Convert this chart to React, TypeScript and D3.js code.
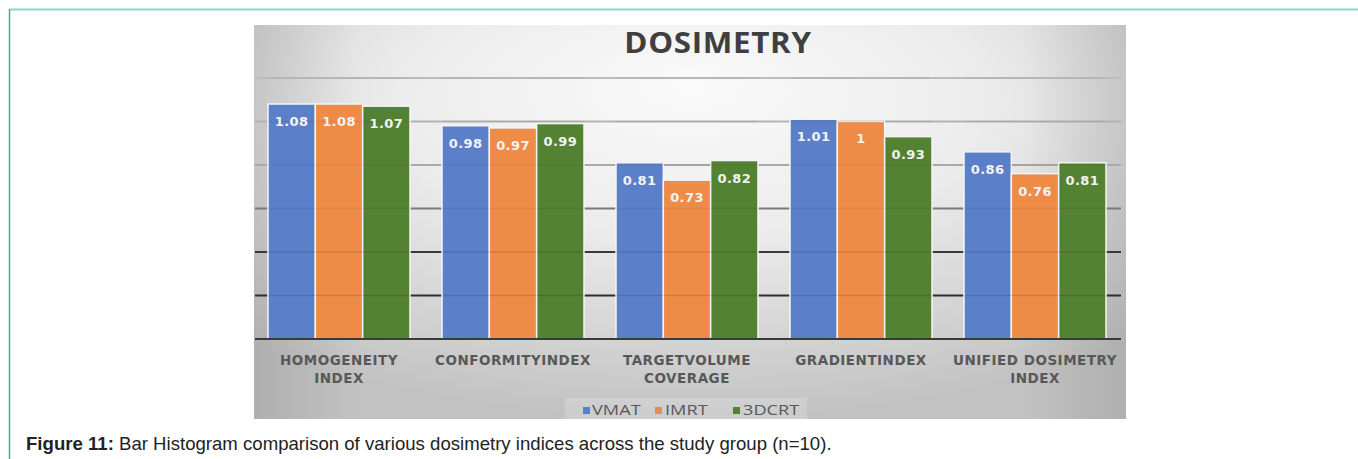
import React from "react";
import * as d3 from "d3";

const categories: string[][] = [
  ["HOMOGENEITY", "INDEX"],
  ["CONFORMITYINDEX"],
  ["TARGETVOLUME", "COVERAGE"],
  ["GRADIENTINDEX"],
  ["UNIFIED DOSIMETRY", "INDEX"],
];
const seriesNames = ["VMAT", "IMRT", "3DCRT"];
const vmat = [1.08, 0.98, 0.81, 1.01, 0.86];
const imrt = [1.08, 0.97, 0.73, 1.0, 0.76];
const dcrt = [1.07, 0.99, 0.82, 0.93, 0.81];
const labelsVmat = ["1.08", "0.98", "0.81", "1.01", "0.86"];
const labelsImrt = ["1.08", "0.97", "0.73", "1", "0.76"];
const labelsDcrt = ["1.07", "0.99", "0.82", "0.93", "0.81"];
const yTicks = [0.2, 0.4, 0.6, 0.8, 1.0, 1.2];

const colors = ["#5b80c9", "#ee8b47", "#538233"];
const gridColors: Record<string, string> = {
  "0.2": "#2e2e2e",
  "0.4": "#3a3a3a",
  "0.6": "#7a7a7a",
  "0.8": "#a9a9a9",
  "1": "#b3b3b3",
  "1.2": "#bdbdbd",
};

export default function App() {
  const W = 1358;
  const H = 459;
  const chartX0 = 254, chartX1 = 1126, chartY0 = 25, chartY1 = 419;
  const plotL = 252, plotR = 1122;
  const yBase = 339;

  const x = d3
    .scaleBand<number>()
    .domain(d3.range(categories.length))
    .range([plotL, plotR])
    .paddingInner(0.184)
    .paddingOuter(0.092);
  const xs = d3.scaleBand<number>().domain([0, 1, 2]).range([0, x.bandwidth()]);
  const y = d3.scaleLinear().domain([0, 1.2]).range([yBase, yBase - 1.2 * 217.6]);

  const series = [vmat, imrt, dcrt];
  const labels = [labelsVmat, labelsImrt, labelsDcrt];

  const legendItems = [
    { sx: 583, tx: 592 },
    { sx: 655, tx: 665 },
    { sx: 733, tx: 743 },
  ];

  return (
    <svg
      width={W}
      height={H}
      style={{ position: "absolute", left: 0, top: 0, background: "#fff" }}
    >
      <defs>
        <radialGradient id="bg" cx="50%" cy="25%" r="75%" fx="50%" fy="15%">
          <stop offset="0%" stopColor="#fafafa" />
          <stop offset="45%" stopColor="#ececec" />
          <stop offset="100%" stopColor="#c2c2c2" />
        </radialGradient>
        <linearGradient id="side" x1="0" x2="1" y1="0" y2="0">
          <stop offset="0%" stopColor="#000" stopOpacity={0.1} />
          <stop offset="12%" stopColor="#000" stopOpacity={0.0} />
          <stop offset="88%" stopColor="#000" stopOpacity={0.0} />
          <stop offset="100%" stopColor="#000" stopOpacity={0.1} />
        </linearGradient>
      </defs>

      {/* frame lines */}
      <line x1={9} x2={W} y1={9.5} y2={9.5} stroke="#86d8cb" strokeWidth={2} />
      <line x1={9.5} x2={9.5} y1={9} y2={H} stroke="#2fb79c" strokeWidth={1.5} />

      {/* chart background */}
      <rect
        x={chartX0}
        y={chartY0}
        width={chartX1 - chartX0}
        height={chartY1 - chartY0}
        fill="url(#bg)"
      />
      <rect
        x={chartX0}
        y={chartY0}
        width={chartX1 - chartX0}
        height={chartY1 - chartY0}
        fill="url(#side)"
      />

      {/* title */}
      <g transform="translate(718,53) scale(1.12,1)">
        <text
          x={0}
          y={0}
          textAnchor="middle"
          fontFamily="'Open Sans', sans-serif"
          fontWeight={700}
          fontSize={28}
          letterSpacing={0.6}
          fill="#3f3f3f"
        >
          DOSIMETRY
        </text>
      </g>

      {/* gridlines */}
      {yTicks.map((t) => (
        <line
          key={t}
          x1={chartX0 + 1}
          x2={plotR - 1}
          y1={y(t)}
          y2={y(t)}
          stroke={gridColors[String(t)]}
          strokeWidth={2}
        />
      ))}

      {/* bars */}
      {series.map((vals, si) =>
        vals.map((v, ci) => {
          const bx = (x(ci) as number) + (xs(si) as number);
          return (
            <rect
              key={`${si}-${ci}`}
              x={bx}
              y={y(v)}
              width={xs.bandwidth()}
              height={yBase - y(v)}
              fill={colors[si]}
              stroke="#f4f4f4"
              strokeWidth={1.5}
            />
          );
        })
      )}

      {/* faint gridlines showing through bars */}
      {yTicks.map((t) =>
        categories.map((_, ci) => {
          const gx = x(ci) as number;
          return (
            <line
              key={`g${t}-${ci}`}
              x1={gx + 1}
              x2={gx + x.bandwidth() - 1}
              y1={y(t)}
              y2={y(t)}
              stroke="#000"
              strokeOpacity={t <= 0.4 ? 0.12 : 0.05}
              strokeWidth={1.5}
            />
          );
        })
      )}

      {/* baseline */}
      <line
        x1={chartX0 + 1}
        x2={plotR - 1}
        y1={yBase}
        y2={yBase}
        stroke="#3a3a3a"
        strokeWidth={2}
      />

      {/* value labels */}
      {series.map((vals, si) =>
        vals.map((v, ci) => {
          const bx = (x(ci) as number) + (xs(si) as number) + xs.bandwidth() / 2;
          return (
            <text
              key={`l${si}-${ci}`}
              x={bx}
              y={y(v) + 22}
              textAnchor="middle"
              fontFamily="'DejaVu Sans', sans-serif"
              fontWeight={700}
              fontSize={13}
              letterSpacing={0.4}
              fill="#f3f3f3"
            >
              {labels[si][ci]}
            </text>
          );
        })
      )}

      {/* category labels */}
      {categories.map((lines, ci) => {
        const cx = (x(ci) as number) + x.bandwidth() / 2;
        return (
          <text
            key={`c${ci}`}
            textAnchor="middle"
            fontFamily="'DejaVu Sans', sans-serif"
            fontWeight={700}
            fontSize={13.5}
            letterSpacing={0.5}
            fill="#585858"
          >
            {lines.map((ln, li) => (
              <tspan key={li} x={cx} y={365 + li * 18}>
                {ln}
              </tspan>
            ))}
          </text>
        );
      })}

      {/* legend */}
      <rect x={565} y={398} width={242} height={21} fill="#ffffff" fillOpacity={0.18} />
      {seriesNames.map((n, i) => (
        <g key={n}>
          <rect x={legendItems[i].sx} y={407} width={7} height={7} fill={colors[i]} />
          <g transform={`translate(${legendItems[i].tx},415) scale(1.3,1)`}>
            <text
              x={0}
              y={0}
              fontFamily="'Open Sans', sans-serif"
              fontSize={14}
              fill="#595959"
            >
              {n}
            </text>
          </g>
        </g>
      ))}

      {/* caption */}
      <text
        x={26}
        y={450}
        fontFamily="'Liberation Sans', Arial, sans-serif"
        fontSize={18.6}
        fill="#222"
      >
        <tspan fontWeight={700}>Figure 11:</tspan>
        <tspan> Bar Histogram comparison of various dosimetry indices across the study group (n=10).</tspan>
      </text>
    </svg>
  );
}
